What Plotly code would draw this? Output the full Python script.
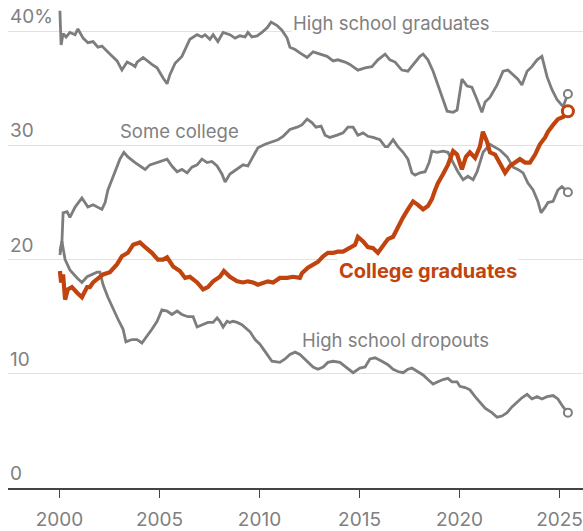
import plotly.graph_objects as go

# Share of workers by education level, percent

hs_grad_years = [2000.02, 2000.08, 2000.18, 2000.33, 2000.52, 2000.78, 2000.92, 2001.18, 2001.42, 2001.68,
                 2001.92, 2002.12, 2002.52, 2002.88, 2003.12, 2003.38, 2003.62, 2003.78, 2003.88, 2004.18,
                 2004.62, 2004.88, 2005.18, 2005.38, 2005.52, 2005.78, 2006.12, 2006.28, 2006.52, 2006.88,
                 2007.12, 2007.28, 2007.52, 2007.68, 2007.92, 2008.18, 2008.52, 2008.78, 2009.02, 2009.28,
                 2009.42, 2009.62, 2009.88, 2010.12, 2010.38, 2010.58, 2010.88, 2011.12, 2011.38, 2011.52,
                 2011.78, 2012.02, 2012.38, 2012.68, 2013.02, 2013.38, 2013.68, 2013.92, 2014.28, 2014.52,
                 2014.92, 2015.28, 2015.62, 2015.92, 2016.28, 2016.52, 2016.78, 2017.12, 2017.42, 2017.78,
                 2018.02, 2018.18, 2018.42, 2018.68, 2018.92, 2019.18, 2019.38, 2019.68, 2019.88, 2020.12,
                 2020.38, 2020.62, 2020.88, 2021.12, 2021.28, 2021.52, 2021.88, 2022.18, 2022.42, 2022.68,
                 2022.92, 2023.12, 2023.38, 2023.62, 2023.88, 2024.12, 2024.38, 2024.62, 2024.88, 2025.18,
                 2025.42]
hs_grad = [41.8, 38.8, 39.8, 39.5, 39.9, 39.7, 40.2, 39.4, 39.0, 39.1,
           38.6, 38.7, 38.0, 37.4, 36.6, 37.3, 37.1, 36.9, 37.3, 37.7,
           37.1, 36.8, 35.9, 35.4, 36.2, 37.2, 37.8, 38.4, 39.3, 39.7,
           39.5, 39.7, 39.3, 39.7, 39.1, 39.9, 39.7, 39.4, 39.6, 39.5,
           39.9, 39.5, 39.6, 39.9, 40.3, 40.8, 40.5, 40.1, 39.4, 38.6,
           38.4, 38.1, 37.7, 38.2, 38.0, 37.8, 37.4, 37.5, 37.3, 37.1,
           36.6, 36.8, 36.9, 37.5, 38.0, 37.5, 37.3, 36.6, 36.5, 37.3,
           37.8, 38.0, 37.5, 36.5, 35.2, 34.0, 33.0, 32.9, 33.1, 35.8,
           35.2, 35.1, 34.0, 32.9, 33.8, 34.2, 35.3, 36.5, 36.6, 36.2,
           35.8, 35.3, 36.5, 36.9, 37.5, 37.8, 36.0, 34.9, 34.0, 33.4,
           34.5]

some_college_years = [2000.02, 2000.12, 2000.18, 2000.38, 2000.52, 2000.78, 2001.12, 2001.28, 2001.42, 2001.68,
                      2001.92, 2002.12, 2002.28, 2002.42, 2002.62, 2002.78, 2003.02, 2003.22, 2003.42, 2003.78,
                      2004.02, 2004.28, 2004.52, 2004.88, 2005.12, 2005.38, 2005.62, 2005.88, 2006.12, 2006.38,
                      2006.62, 2006.88, 2007.12, 2007.38, 2007.62, 2007.88, 2008.12, 2008.28, 2008.52, 2008.88,
                      2009.18, 2009.42, 2009.68, 2009.92, 2010.28, 2010.62, 2010.92, 2011.18, 2011.52, 2011.88,
                      2012.12, 2012.38, 2012.62, 2012.82, 2013.08, 2013.28, 2013.52, 2013.88, 2014.18, 2014.42,
                      2014.68, 2014.92, 2015.18, 2015.42, 2015.68, 2016.02, 2016.28, 2016.42, 2016.68, 2016.92,
                      2017.18, 2017.42, 2017.62, 2017.78, 2018.02, 2018.28, 2018.48, 2018.62, 2018.88, 2019.18,
                      2019.42, 2019.68, 2019.92, 2020.18, 2020.42, 2020.68, 2020.88, 2021.02, 2021.18, 2021.52,
                      2021.78, 2022.02, 2022.38, 2022.68, 2022.92, 2023.18, 2023.42, 2023.68, 2023.92, 2024.08,
                      2024.28, 2024.42, 2024.68, 2024.92, 2025.12, 2025.28, 2025.42]
some_college = [20.4, 21.5, 24.1, 24.2, 23.7, 24.6, 25.4, 25.0, 24.6, 24.8,
                24.6, 24.4, 25.0, 26.1, 27.0, 27.7, 28.8, 29.4, 29.0, 28.5,
                28.2, 27.9, 28.3, 28.5, 28.6, 28.8, 28.2, 27.7, 27.9, 27.6,
                28.1, 28.3, 28.8, 28.5, 28.6, 28.2, 27.5, 26.8, 27.5, 27.9,
                28.3, 28.2, 29.0, 29.8, 30.1, 30.3, 30.5, 30.8, 31.4, 31.6,
                31.8, 32.3, 32.0, 31.6, 31.7, 30.9, 30.7, 30.9, 31.1, 31.6,
                31.6, 30.9, 31.1, 30.8, 30.7, 30.5, 29.9, 29.9, 30.5, 29.9,
                29.4, 28.8, 27.6, 27.4, 27.6, 27.7, 28.5, 29.5, 29.4, 29.5,
                29.4, 28.5, 27.7, 27.0, 27.3, 27.0, 27.7, 28.5, 29.4, 30.1,
                29.8, 29.6, 29.0, 28.1, 27.9, 27.6, 26.7, 26.1, 25.1, 24.1,
                24.6, 25.0, 25.1, 26.1, 26.4, 26.1, 25.9]

college_years = [2000.02, 2000.08, 2000.18, 2000.28, 2000.42, 2000.62, 2000.88, 2001.12, 2001.38, 2001.52,
                 2001.68, 2001.92, 2002.18, 2002.52, 2002.88, 2003.12, 2003.42, 2003.68, 2004.02, 2004.28,
                 2004.62, 2004.92, 2005.18, 2005.38, 2005.68, 2006.02, 2006.28, 2006.52, 2006.88, 2007.18,
                 2007.42, 2007.68, 2008.02, 2008.22, 2008.52, 2008.88, 2009.18, 2009.42, 2009.68, 2009.92,
                 2010.18, 2010.42, 2010.68, 2011.02, 2011.38, 2011.68, 2012.02, 2012.12, 2012.42, 2012.68,
                 2012.92, 2013.18, 2013.42, 2013.68, 2013.92, 2014.18, 2014.52, 2014.78, 2014.92, 2015.18,
                 2015.42, 2015.68, 2015.92, 2016.18, 2016.42, 2016.68, 2016.92, 2017.18, 2017.42, 2017.68,
                 2017.92, 2018.18, 2018.42, 2018.62, 2018.78, 2018.92, 2019.18, 2019.42, 2019.68, 2019.88,
                 2020.12, 2020.32, 2020.52, 2020.78, 2021.02, 2021.17, 2021.38, 2021.52, 2021.78, 2022.02,
                 2022.28, 2022.52, 2022.78, 2023.02, 2023.28, 2023.52, 2023.78, 2024.02, 2024.28, 2024.42,
                 2024.68, 2024.92, 2025.18, 2025.42]
college = [19.0, 18.0, 18.7, 16.5, 17.4, 17.6, 17.1, 16.7, 17.6, 17.6,
           18.0, 18.3, 18.7, 18.9, 19.6, 20.3, 20.6, 21.3, 21.5, 21.1,
           20.6, 20.0, 20.0, 20.2, 19.4, 19.0, 18.4, 18.5, 18.0, 17.4,
           17.6, 18.1, 18.5, 19.0, 18.5, 18.1, 18.0, 18.1, 18.0, 17.8,
           18.0, 18.1, 18.0, 18.4, 18.4, 18.5, 18.4, 18.8, 19.3, 19.6,
           19.8, 20.3, 20.6, 20.6, 20.7, 20.7, 21.0, 21.3, 22.0, 21.6,
           21.1, 21.0, 20.6, 21.3, 21.8, 22.0, 22.9, 23.7, 24.4, 25.1,
           24.8, 24.4, 24.7, 25.3, 26.1, 26.7, 27.5, 28.3, 29.5, 29.2,
           27.9, 29.0, 29.4, 28.9, 29.9, 31.2, 30.3, 29.4, 29.2, 28.5,
           27.6, 28.2, 28.5, 28.8, 28.5, 28.5, 29.2, 30.1, 30.7, 31.2,
           31.8, 32.3, 32.5, 33.0]

dropout_years = [2000.02, 2000.12, 2000.28, 2000.52, 2000.88, 2001.12, 2001.38, 2001.62, 2001.88, 2002.02,
                 2002.18, 2002.42, 2002.62, 2002.78, 2002.92, 2003.18, 2003.32, 2003.62, 2003.88, 2004.12,
                 2004.38, 2004.62, 2004.88, 2005.12, 2005.38, 2005.62, 2005.88, 2006.12, 2006.42, 2006.68,
                 2006.88, 2007.12, 2007.42, 2007.68, 2007.88, 2008.02, 2008.18, 2008.38, 2008.52, 2008.68,
                 2008.88, 2009.12, 2009.38, 2009.52, 2009.78, 2010.02, 2010.38, 2010.62, 2011.02, 2011.28,
                 2011.52, 2011.78, 2012.02, 2012.38, 2012.68, 2012.92, 2013.18, 2013.42, 2013.68, 2014.02,
                 2014.38, 2014.68, 2015.02, 2015.28, 2015.52, 2015.78, 2016.12, 2016.42, 2016.68, 2016.92,
                 2017.18, 2017.42, 2017.62, 2017.88, 2018.18, 2018.42, 2018.68, 2018.92, 2019.18, 2019.42,
                 2019.62, 2019.88, 2020.02, 2020.28, 2020.52, 2020.78, 2021.02, 2021.28, 2021.62, 2021.88,
                 2022.12, 2022.38, 2022.62, 2022.88, 2023.12, 2023.38, 2023.62, 2023.88, 2024.12, 2024.38,
                 2024.68, 2024.92, 2025.18, 2025.42]
dropouts = [20.7, 21.6, 20.0, 19.1, 18.4, 18.0, 18.5, 18.7, 18.9, 18.9,
            17.8, 16.7, 15.9, 15.4, 14.8, 13.9, 12.8, 13.0, 13.0, 12.7,
            13.3, 13.9, 14.6, 15.6, 15.5, 15.2, 15.5, 15.2, 15.0, 15.0,
            14.1, 14.3, 14.5, 14.5, 14.9, 14.6, 14.1, 14.6, 14.5, 14.6,
            14.5, 14.3, 13.9, 13.7, 13.0, 12.6, 11.7, 11.1, 11.0, 11.3,
            11.7, 11.9, 11.7, 11.1, 10.6, 10.4, 10.6, 11.0, 11.1, 11.0,
            10.5, 10.1, 10.5, 10.6, 11.3, 11.4, 11.1, 10.8, 10.4, 10.2,
            10.1, 10.4, 10.5, 10.2, 9.9, 9.5, 9.1, 9.3, 9.5, 9.6,
            9.3, 9.3, 8.9, 8.8, 8.6, 8.0, 7.5, 7.0, 6.6, 6.2,
            6.3, 6.6, 7.1, 7.5, 7.9, 8.2, 7.8, 8.0, 7.8, 8.0,
            8.1, 7.8, 7.1, 6.6]

x_ticks = [2000, 2005, 2010, 2015, 2020, 2025]
y_grid = [10, 20, 30, 40]
y_tick_text = ["10", "20", "30", "40%"]

GRAY = "#7d7d7d"
TEXT_GRAY = "#808080"
ORANGE = "#c1440e"
FONT = "Inter, DejaVu Sans, sans-serif"

fig = go.Figure()


def add_series(xs, ys, color, width, marker_size, marker_width):
    fig.add_trace(go.Scatter(
        x=xs, y=ys, mode="lines", line=dict(color=color, width=width),
        hoverinfo="skip", showlegend=False,
    ))
    # hollow dot on the latest reading
    fig.add_trace(go.Scatter(
        x=[xs[-1]], y=[ys[-1]], mode="markers",
        marker=dict(size=marker_size, color="white",
                    line=dict(color=color, width=marker_width)),
        hoverinfo="skip", showlegend=False, cliponaxis=False,
    ))


add_series(hs_grad_years, hs_grad, GRAY, 2.8, 8, 2)
add_series(some_college_years, some_college, GRAY, 2.8, 8, 2)
add_series(dropout_years, dropouts, GRAY, 2.8, 8, 2)
add_series(college_years, college, ORANGE, 4.2, 11, 3)

annotations = []
for v, t in zip(y_grid, y_tick_text):
    annotations.append(dict(
        xref="paper", yref="y", x=0, y=v, text=t, showarrow=False,
        xanchor="left", yanchor="bottom", yshift=1,
        font=dict(family=FONT, size=19, color=TEXT_GRAY),
    ))
annotations.append(dict(
    xref="paper", yref="y", x=0, y=0, text="0", showarrow=False,
    xanchor="left", yanchor="bottom", yshift=1,
    font=dict(family=FONT, size=19, color=TEXT_GRAY),
))

series_labels = [
    ("High school graduates", 2016.58, 40.7, TEXT_GRAY, False, True),
    ("Some college", 2005.98, 31.3, TEXT_GRAY, False, False),
    ("College graduates", 2018.43, 19.0, ORANGE, True, True),
    ("High school dropouts", 2016.78, 13.0, TEXT_GRAY, False, False),
]
for text, x, y, color, bold, boxed in series_labels:
    annotations.append(dict(
        x=x, y=y, text=f"<b>{text}</b>" if bold else text, showarrow=False,
        xanchor="center", yanchor="middle",
        bgcolor="white" if boxed else "rgba(0,0,0,0)", borderpad=1,
        font=dict(family=FONT, size=20 if bold else 18.5, color=color),
    ))

fig.update_layout(
    width=583, height=531,
    margin=dict(l=8, r=0, t=5, b=43),
    paper_bgcolor="white", plot_bgcolor="white",
    annotations=annotations,
    xaxis=dict(
        range=[1997.425, 2026.175],
        tickvals=x_ticks, ticktext=[str(t) for t in x_ticks],
        ticks="outside", ticklen=8, tickwidth=1.2, tickcolor="#444",
        ticklabelstandoff=5,
        showline=True, linecolor="#444", linewidth=1.6,
        showgrid=False, zeroline=False,
        tickfont=dict(family=FONT, size=19, color=TEXT_GRAY),
    ),
    yaxis=dict(
        range=[0, 42.3],
        tickvals=y_grid, showticklabels=False, ticks="",
        showgrid=True, gridcolor="#e2e2e2", gridwidth=1,
        zeroline=False, showline=False,
    ),
)

fig.write_html("out.html")
